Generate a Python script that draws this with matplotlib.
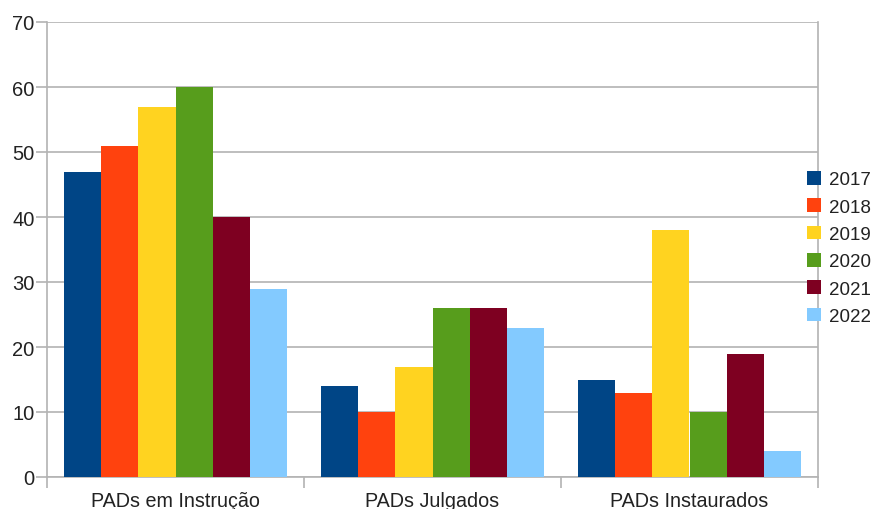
import numpy as np
import matplotlib.pyplot as plt
from matplotlib.patches import Patch

plt.rcParams['font.family'] = ['Liberation Sans', 'DejaVu Sans']

# dados
categorias = ['PADs em Instrução', 'PADs Julgados', 'PADs Instaurados']
anos = ['2017', '2018', '2019', '2020', '2021', '2022']
valores = {
    '2017': [47, 14, 15],
    '2018': [51, 10, 13],
    '2019': [57, 17, 38],
    '2020': [60, 26, 10],
    '2021': [40, 26, 19],
    '2022': [29, 23, 4],
}
cores = ['#004586', '#ff420e', '#ffd320', '#579d1c', '#7e0021', '#83caff']

fig = plt.figure(figsize=(8.72, 5.10), dpi=100)
ax = fig.add_axes([47 / 872, 32 / 510, 771 / 872, 455 / 510])

x = np.arange(len(categorias))
largura = 0.864 / len(anos)
for i, ano in enumerate(anos):
    desloc = (i - (len(anos) - 1) / 2) * largura
    ax.bar(x + desloc, valores[ano], largura, color=cores[i], zorder=3, label=ano)

ax.set_xlim(-0.5, len(categorias) - 0.5)
ax.set_ylim(0, 70)
ax.set_yticks(range(0, 71, 10))
ax.yaxis.grid(True, color='#b3b3b3', linewidth=1.2, zorder=0)

# rótulos no centro, ticks nas divisões
ax.set_xticks(x)
ax.set_xticklabels(categorias, fontsize=14.2, color='#222222')
ax.tick_params(axis='x', length=0, pad=10)
ax.set_xticks(np.arange(-0.5, len(categorias)), minor=True)
ax.tick_params(axis='x', which='minor', length=8, color='#b3b3b3', width=1.2)
ax.tick_params(axis='y', length=8, color='#b3b3b3', width=1.2, pad=1,
               labelsize=14.5, labelcolor='#222222')

for lado in ['left', 'right', 'bottom']:
    ax.spines[lado].set_color('#b3b3b3')
    ax.spines[lado].set_linewidth(1.2)
ax.spines['top'].set_visible(False)

alcas = [Patch(facecolor=c, edgecolor='none') for c in cores]
leg = fig.legend(alcas, anos, loc='center left', bbox_to_anchor=(807 / 872, 1 - 249 / 510),
                 frameon=False, fontsize=13.5, handlelength=0.75, handleheight=0.75,
                 handletextpad=0.4, labelspacing=0.53, borderaxespad=0, borderpad=0)
for t in leg.get_texts():
    t.set_color('#222222')

fig.savefig('out.png', dpi=100)
